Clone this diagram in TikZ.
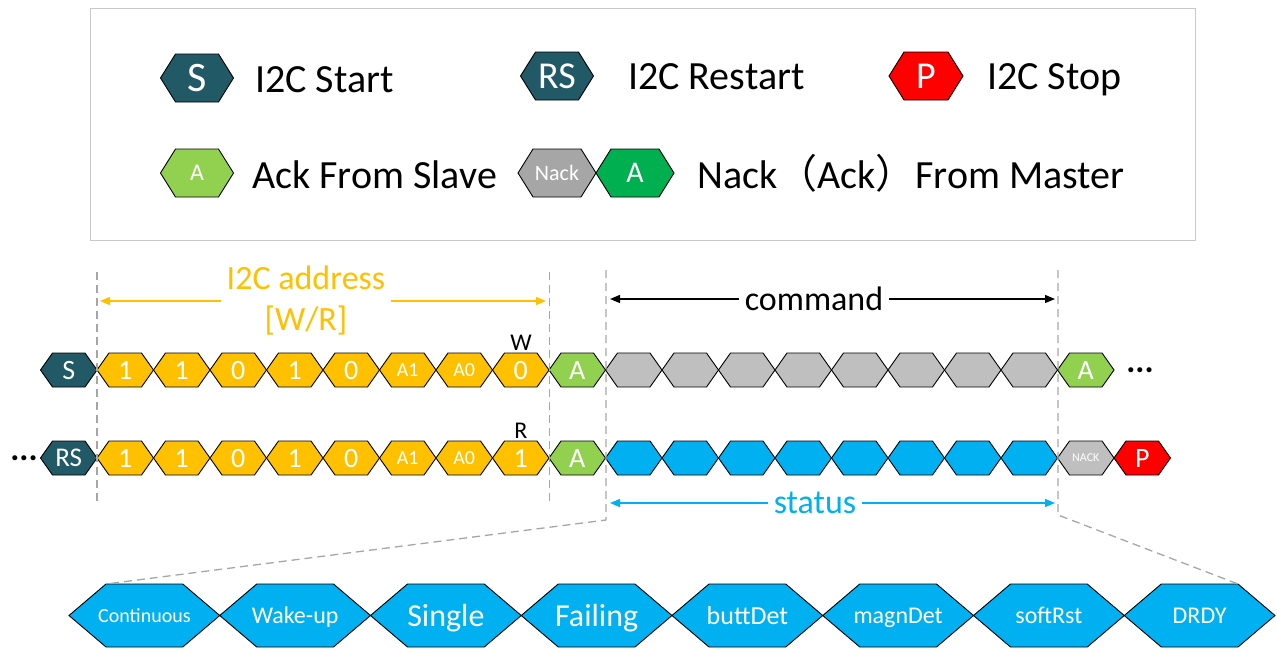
\documentclass[tikz,border=0pt]{standalone}
\usepackage{fontspec}
\setmainfont{Carlito}
\newfontfamily\cjk{Noto Sans CJK SC}
\usetikzlibrary{arrows.meta}
\definecolor{tealc}{HTML}{215967}
\definecolor{orangec}{HTML}{FFC000}
\definecolor{lgreen}{HTML}{92D050}
\definecolor{dgreen}{HTML}{00B050}
\definecolor{grayc}{HTML}{BFBFBF}
\definecolor{lgray}{HTML}{A6A6A6}
\definecolor{bluec}{HTML}{00B0F0}
\definecolor{redc}{HTML}{FF0000}
\definecolor{dashgray}{HTML}{A6A6A6}
\definecolor{boxgray}{HTML}{C8C8C8}
\newcommand{\myfs}[1]{\fontsize{#1}{#1}\selectfont}
% name, cx, cy, width, height, inset, style, fontsize, text
\newcommand{\hexa}[9]{%
  \draw[hexline,#7] ({#2-#4/2},{#3}) -- ({#2-#4/2+#6},{#3-#5/2}) -- ({#2+#4/2-#6},{#3-#5/2}) -- ({#2+#4/2},{#3}) -- ({#2+#4/2-#6},{#3+#5/2}) -- ({#2-#4/2+#6},{#3+#5/2}) -- cycle;
  \node[hextext,anchor=base,font=\myfs{#8}] (#1) at ({#2},{#3+0.33*#8}) {#9};
  \coordinate (#1-tl) at ({#2-#4/2+#6},{#3-#5/2});
  \coordinate (#1-tr) at ({#2+#4/2-#6},{#3-#5/2});}
\begin{document}
\begin{tikzpicture}[x=1pt,y=-1pt,
  hexline/.style={draw=black,line width=0.9pt,line join=miter},
  hextext/.style={text=white,inner sep=0pt},
  dashln/.style={draw=dashgray,line width=1.3pt,dash pattern=on 8pt off 5pt},
  lbl/.style={inner sep=0pt,outer sep=6pt},
  legtext/.style={anchor=base west,inner sep=0pt,font=\myfs{40}},
  arr/.style={line width=1.3pt,-{Triangle[length=10pt,width=8pt]}}]
\useasboundingbox (0,0) rectangle (1277,651);
% legend
\node[draw=boxgray,line width=1pt,minimum width=1105pt,minimum height=232pt,inner sep=0pt] (legend) at (642.5,124) {};
\hexa{lgS}{197}{78}{73}{48}{15}{fill=tealc}{42}{S}
\hexa{lgRS}{557}{76}{73}{48}{15}{fill=tealc}{38}{RS}
\hexa{lgP}{926}{76}{74}{48}{15}{fill=redc}{38}{P}
\hexa{lgA}{197}{173}{73}{48}{15}{fill=lgreen}{24}{A}
\hexa{lgN}{557}{173}{78}{48}{15}{fill=lgray}{22}{Nack}
\hexa{lgA2}{635}{173}{78}{48}{15}{fill=dgreen}{30}{A}
\node[legtext] (tS) at (255,92) {I2C Start};
\node[legtext] (tRS) at (628,89) {I2C Restart};
\node[legtext] (tP) at (987,89) {I2C Stop};
\node[legtext] (tA) at (252,188) {Ack From Slave};
\node[legtext] (tN) at (697,188) {Nack{\cjk （}Ack{\cjk ）}From Master};
% row 1
\foreach \k/\tx/\cl/\fz in {0/S/tealc/28,1/1/orangec/28,2/1/orangec/28,3/0/orangec/28,4/1/orangec/28,5/0/orangec/28,6/A1/orangec/20,7/A0/orangec/20,8/0/orangec/28,9/A/lgreen/28,10//grayc/28,11//grayc/28,12//grayc/28,13//grayc/28,14//grayc/28,15//grayc/28,16//grayc/28,17//grayc/28,18/A/lgreen/28}{
  \hexa{ra\k}{68.75+56.5*\k}{370}{56.5}{34}{12}{fill=\cl}{\fz}{\tx}
}
% row 2
\foreach \k/\tx/\cl/\fz in {0/RS/tealc/27,1/1/orangec/28,2/1/orangec/28,3/0/orangec/28,4/1/orangec/28,5/0/orangec/28,6/A1/orangec/20,7/A0/orangec/20,8/1/orangec/28,9/A/lgreen/28,10//bluec/28,11//bluec/28,12//bluec/28,13//bluec/28,14//bluec/28,15//bluec/28,16//bluec/28,17//bluec/28,18/NACK/grayc/12,19/P/redc/28}{
  \hexa{rb\k}{68.75+56.5*\k}{458}{56.5}{34}{12}{fill=\cl}{\fz}{\tx}
}
\node[font=\bfseries\myfs{34},inner sep=0pt] (dots1) at (1140,370) {...};
\node[font=\bfseries\myfs{34},inner sep=0pt] (dots2) at (24,458) {...};
\node[font=\myfs{24},inner sep=0pt] (wl) at (521,343) {W};
\node[font=\myfs{24},inner sep=0pt] (rl) at (521,431) {R};
% bottom
\foreach \k/\tx/\fz in {0/Continuous/20,1/Wake-up/24,2/Single/32,3/Failing/32,4/buttDet/26,5/magnDet/24,6/softRst/24,7/DRDY/24}{
  \hexa{bt\k}{69+150.75*\k+75.375}{615.5}{150.75}{63}{37}{fill=bluec}{\fz}{\tx}
}
% dashed guides
\coordinate (v1t) at (97,272); \coordinate (v1b) at (97,505);
\coordinate (v2t) at (549.5,272); \coordinate (v2b) at (549.5,505);
\coordinate (v3t) at (606,270); \coordinate (v3b) at (606,520);
\coordinate (v4t) at (1058,270); \coordinate (v4b) at (1058,515);
\draw[dashln] (v1t) -- (v1b);
\draw[dashln] (v2t) -- (v2b);
\draw[dashln] (v3t) -- (v3b) -- (bt0-tl);
\draw[dashln] (v4t) -- (v4b) -- (bt7-tr);
% labels with arrows
\node[lbl,text=orangec,align=center,font={\fontsize{34}{41}\selectfont}] (addr) at (306,301) {I2C address\\{[W/R]}};
\coordinate (aL) at (100,301); \coordinate (aR) at (546,301);
\draw[arr,orangec] (addr.west) -- (addr.west -| aL);
\draw[arr,orangec] (addr.east) -- (addr.east -| aR);
\node[lbl,font=\myfs{34}] (cmd) at (814,299) {command};
\coordinate (cL) at (610,299); \coordinate (cR) at (1055,299);
\draw[arr,black] (cmd.west) -- (cmd.west -| cL);
\draw[arr,black] (cmd.east) -- (cmd.east -| cR);
\node[lbl,text=bluec,font=\myfs{34}] (st) at (815,503) {status};
\coordinate (sL) at (610,503); \coordinate (sR) at (1055,503);
\draw[arr,bluec] (st.west) -- (st.west -| sL);
\draw[arr,bluec] (st.east) -- (st.east -| sR);
\end{tikzpicture}
\end{document}
